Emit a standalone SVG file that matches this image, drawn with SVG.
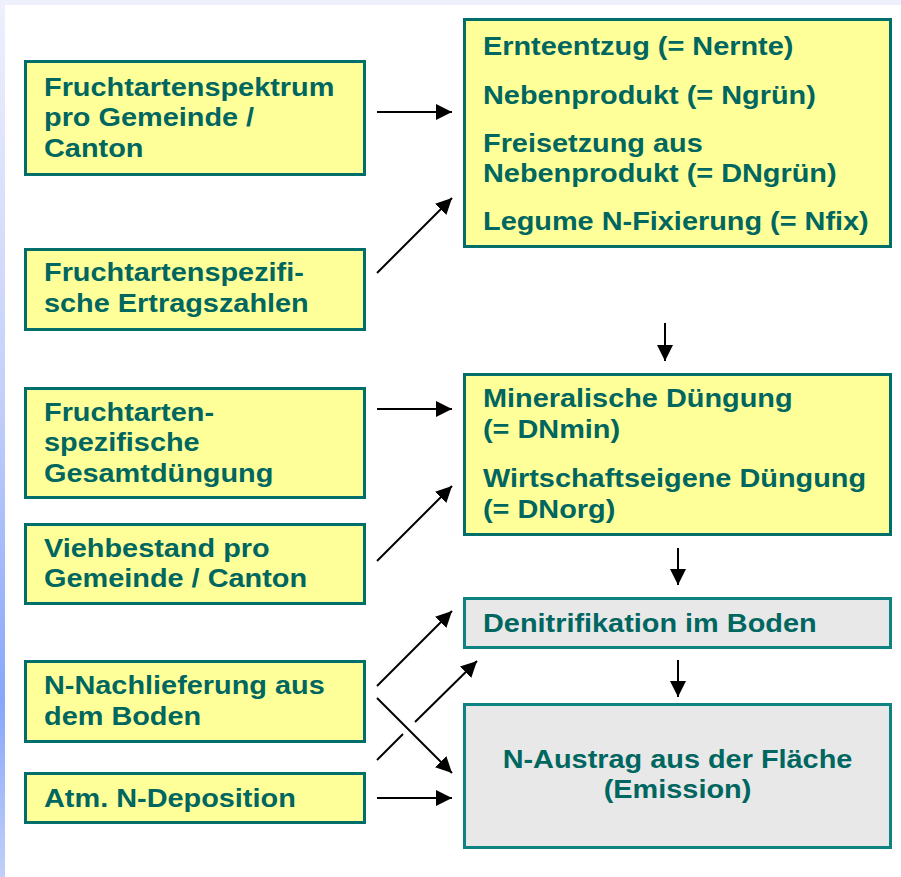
<svg xmlns="http://www.w3.org/2000/svg" width="901" height="877" viewBox="0 0 901 877">
<style>
.y{fill:#ffff99;stroke:#006e6a;stroke-width:3}
.g{fill:#e8e8e8;stroke:#0f8282;stroke-width:3}
.t{font-family:"Liberation Sans",Arial,sans-serif;font-weight:bold;font-size:25px;fill:#006660}
.c{text-anchor:middle}
.a{stroke:#000;stroke-width:2;fill:none;marker-end:url(#h)}
.l{stroke:#000;stroke-width:2;fill:none}
</style>
<defs>
<marker id="h" markerWidth="16" markerHeight="16" refX="16" refY="8" orient="auto" markerUnits="userSpaceOnUse">
<path d="M0,0 L16,8 L0,16 z" fill="#000"/>
</marker>
<linearGradient id="lb" x1="0" y1="0" x2="0" y2="1">
<stop offset="0" stop-color="#eef0fc"/>
<stop offset="0.45" stop-color="#c4d0fa"/>
<stop offset="0.8" stop-color="#88a6fb"/>
<stop offset="1" stop-color="#c2d0f8"/>
</linearGradient>
</defs>
<rect x="0" y="0" width="901" height="877" fill="#ffffff"/>
<rect x="0" y="0" width="901" height="5" fill="#eef0fc"/>
<rect x="0" y="0" width="5" height="877" fill="url(#lb)"/>

<g id="n-spektrum">
<rect class="y" x="25.5" y="61.5" width="339" height="113"/>
<text class="t" transform="translate(44 95.7) scale(1.155 1)"><tspan x="0">Fruchtartenspektrum</tspan><tspan x="0" dy="30.7">pro Gemeinde /</tspan><tspan x="0" dy="30.7">Canton</tspan></text>
</g>
<g id="n-ertrag">
<rect class="y" x="25.5" y="249.5" width="339" height="80"/>
<text class="t" transform="translate(44 281) scale(1.155 1)"><tspan x="0">Fruchtartenspezifi-</tspan><tspan x="0" dy="31">sche Ertragszahlen</tspan></text>
</g>
<g id="n-duengung">
<rect class="y" x="25.5" y="388.5" width="339" height="109"/>
<text class="t" transform="translate(44 420.7) scale(1.155 1)"><tspan x="0">Fruchtarten-</tspan><tspan x="0" dy="30.5">spezifische</tspan><tspan x="0" dy="30.5">Gesamtdüngung</tspan></text>
</g>
<g id="n-vieh">
<rect class="y" x="25.5" y="524.5" width="339" height="79"/>
<text class="t" transform="translate(44 557) scale(1.155 1)"><tspan x="0">Viehbestand pro</tspan><tspan x="0" dy="30.5">Gemeinde / Canton</tspan></text>
</g>
<g id="n-nachlieferung">
<rect class="y" x="25.5" y="661.5" width="339" height="80"/>
<text class="t" transform="translate(44 694) scale(1.155 1)"><tspan x="0">N-Nachlieferung aus</tspan><tspan x="0" dy="31">dem Boden</tspan></text>
</g>
<g id="n-deposition">
<rect class="y" x="25.5" y="773.5" width="339" height="49"/>
<text class="t" transform="translate(44 807) scale(1.155 1)">Atm. N-Deposition</text>
</g>

<g id="n-ernte">
<rect class="y" x="464.5" y="19.5" width="426" height="227"/>
<text class="t" transform="translate(483 55) scale(1.155 1)"><tspan x="0">Ernteentzug (= Nernte)</tspan><tspan x="0" dy="49">Nebenprodukt (= Ngrün)</tspan><tspan x="0" dy="48">Freisetzung aus</tspan><tspan x="0" dy="30">Nebenprodukt (= DNgrün)</tspan><tspan x="0" dy="48">Legume N-Fixierung (= Nfix)</tspan></text>
</g>
<g id="n-mineral">
<rect class="y" x="464.5" y="374.5" width="426" height="160"/>
<text class="t" transform="translate(483 407) scale(1.155 1)"><tspan x="0">Mineralische Düngung</tspan><tspan x="0" dy="31">(= DNmin)</tspan><tspan x="0" dy="49">Wirtschaftseigene Düngung</tspan><tspan x="0" dy="31">(= DNorg)</tspan></text>
</g>
<g id="n-denitrifikation">
<rect class="g" x="464.5" y="598.5" width="426" height="49"/>
<text class="t" transform="translate(483 632) scale(1.155 1)">Denitrifikation im Boden</text>
</g>
<g id="n-austrag">
<rect class="g" x="464.5" y="704.5" width="426" height="143"/>
<text class="t c" transform="translate(677.5 768) scale(1.155 1)"><tspan x="0">N-Austrag aus der Fläche</tspan><tspan x="0" dy="30">(Emission)</tspan></text>
</g>

<g id="connectors">
<path class="a" d="M377,112 L452,112"/>
<path class="a" d="M377,273 L452,198"/>
<path class="a" d="M665,323 L665,361"/>
<path class="a" d="M377,409 L452,409"/>
<path class="a" d="M377,561 L452,486"/>
<path class="a" d="M678,548 L678,585"/>
<path class="a" d="M678,660 L678,697"/>
<path class="a" d="M377,686 L452,611"/>
<path class="a" d="M377,698 L452,773"/>
<path class="l" d="M377,760 L403,734"/>
<path class="a" d="M415,722 L477,661"/>
<path class="a" d="M377,798 L452,798"/>
</g>
</svg>
